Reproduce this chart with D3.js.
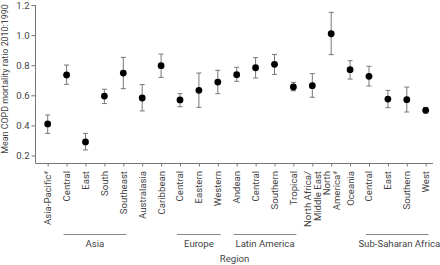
<!DOCTYPE html>
<html>
<head>
<meta charset="utf-8">
<script src="https://cdn.jsdelivr.net/npm/d3@7"></script>
<style>
  body { margin: 0; background: #fff; }
  text { font-family: Roboto, "Liberation Sans", sans-serif; fill: #444; }
</style>
</head>
<body>
<div id="chart"></div>
<script>
// categories (lines split with "|", "#" is drawn as a superscript)
const regions = ["Asia-Pacific#", "Central", "East", "South", "Southeast", "Australasia",
    "Caribbean", "Central", "Eastern", "Western", "Andean", "Central", "Southern",
    "Tropical", "North Africa/|Middle East", "North|America#", "Oceania",
    "Central", "East", "Southern", "West"];
const means = [0.41, 0.735, 0.29, 0.595, 0.748, 0.582, 0.797, 0.569, 0.633, 0.688,
    0.737, 0.783, 0.806, 0.655, 0.664, 1.009, 0.77, 0.726, 0.575, 0.571, 0.50];
const lower = [0.347, 0.673, 0.237, 0.545, 0.644, 0.496, 0.719, 0.524, 0.52, 0.611,
    0.693, 0.715, 0.739, 0.63, 0.587, 0.87, 0.708, 0.662, 0.518, 0.489, 0.482];
const upper = [0.469, 0.801, 0.347, 0.64, 0.852, 0.671, 0.874, 0.611, 0.748, 0.766,
    0.786, 0.85, 0.872, 0.686, 0.744, 1.151, 0.83, 0.793, 0.633, 0.655, 0.52];
const yTicks = [0.2, 0.4, 0.6, 0.8, 1.0, 1.2];
// region groups: name, first index, last index
const groups = [
    { name: "Asia", from: 1, to: 4 },
    { name: "Europe", from: 7, to: 9 },
    { name: "Latin America", from: 10, to: 13 },
    { name: "Sub-Saharan Africa", from: 17, to: 20 }
];

const width = 440, height = 265;
const axisLeft = 35.5, axisRight = 433, axisBottom = 163.5;

const data = regions.map(function(r, i) {
    return { i: i, label: r, mean: means[i], lo: lower[i], hi: upper[i] };
});

const svg = d3.select("#chart")
    .append("svg")
    .attr("width", width)
    .attr("height", height);

const x = d3.scalePoint()
    .domain(d3.range(regions.length))
    .range([47.7, 425.7]);

const y = d3.scaleLinear()
    .domain([0.2, 1.2])
    .range([155.5, 5]);

// Y axis
const gy = svg.append("g")
    .attr("transform", "translate(" + axisLeft + ",0)")
    .call(d3.axisLeft(y).tickValues(yTicks).tickFormat(d3.format(".1f")).tickSize(4).tickSizeOuter(0));
gy.select("path.domain").attr("d", "M0," + y(1.2) + "V" + axisBottom);
gy.selectAll("text").style("font-size", "9.5px").attr("x", -6);

// X axis
const gx = svg.append("g")
    .attr("transform", "translate(0," + axisBottom + ")")
    .call(d3.axisBottom(x).tickSize(3).tickSizeOuter(0).tickFormat(""));
gx.select("path.domain").attr("d", "M" + axisLeft + ",0H" + axisRight);

svg.selectAll("g path.domain, g g.tick line")
    .attr("stroke", "#777");

function addLine(t, line, dy) {
    const ts = t.append("tspan").attr("x", 0).attr("y", dy);
    const parts = line.split("#");
    ts.append("tspan").text(parts[0]);
    if (parts.length > 1) {
        ts.append("tspan").attr("dy", -3).style("font-size", "6px").text("#");
    }
}

// rotated category labels
const labels = svg.append("g").selectAll("text")
    .data(data)
    .enter()
    .append("text")
    .attr("transform", function(d) { return "translate(" + x(d.i) + ",171)rotate(-90)"; })
    .attr("text-anchor", "end")
    .style("font-size", "9.6px");
labels.each(function(d) {
    const lines = d.label.split("|");
    const t = d3.select(this);
    lines.forEach(function(line, k) {
        const dy = lines.length === 1 ? 3.4 : (k === 0 ? -1.6 : 8.8);
        addLine(t, line, dy);
    });
});

// groups
const gg = svg.append("g");
gg.selectAll("line")
    .data(groups)
    .enter()
    .append("line")
    .attr("x1", d => x(d.from) - 3)
    .attr("x2", d => Math.min(x(d.to) + 3, axisRight))
    .attr("y1", 234.5)
    .attr("y2", 234.5)
    .attr("stroke", "#888");
gg.selectAll("text")
    .data(groups)
    .enter()
    .append("text")
    .attr("x", d => (x(d.from) - 3 + Math.min(x(d.to) + 3, axisRight)) / 2 + (d.to === 20 ? 2 : 0))
    .attr("y", 247)
    .attr("text-anchor", "middle")
    .style("font-size", "9.6px")
    .text(d => d.name);

// axis titles
svg.append("text")
    .attr("x", 234.5)
    .attr("y", 261.5)
    .attr("text-anchor", "middle")
    .style("font-size", "9.6px")
    .text("Region");
svg.append("text")
    .attr("transform", "translate(7.5,79)rotate(-90)")
    .attr("text-anchor", "middle")
    .style("font-size", "8.9px")
    .text("Mean COPD mortality ratio 2010:1990");

// error bars
const eb = svg.append("g").attr("stroke", "#777").attr("stroke-width", 1);
eb.selectAll("line.v")
    .data(data)
    .enter()
    .append("line")
    .attr("class", "v")
    .attr("x1", d => x(d.i))
    .attr("x2", d => x(d.i))
    .attr("y1", d => y(d.lo))
    .attr("y2", d => y(d.hi));
["lo", "hi"].forEach(function(k) {
    eb.selectAll("line.c" + k)
        .data(data)
        .enter()
        .append("line")
        .attr("class", "c" + k)
        .attr("x1", d => x(d.i) - 2.5)
        .attr("x2", d => x(d.i) + 2.5)
        .attr("y1", d => y(d[k]))
        .attr("y2", d => y(d[k]));
});

// points
svg.append("g").selectAll("circle")
    .data(data)
    .enter()
    .append("circle")
    .attr("cx", d => x(d.i))
    .attr("cy", d => y(d.mean))
    .attr("r", 3.4)
    .attr("fill", "#000");
</script>
</body>
</html>
